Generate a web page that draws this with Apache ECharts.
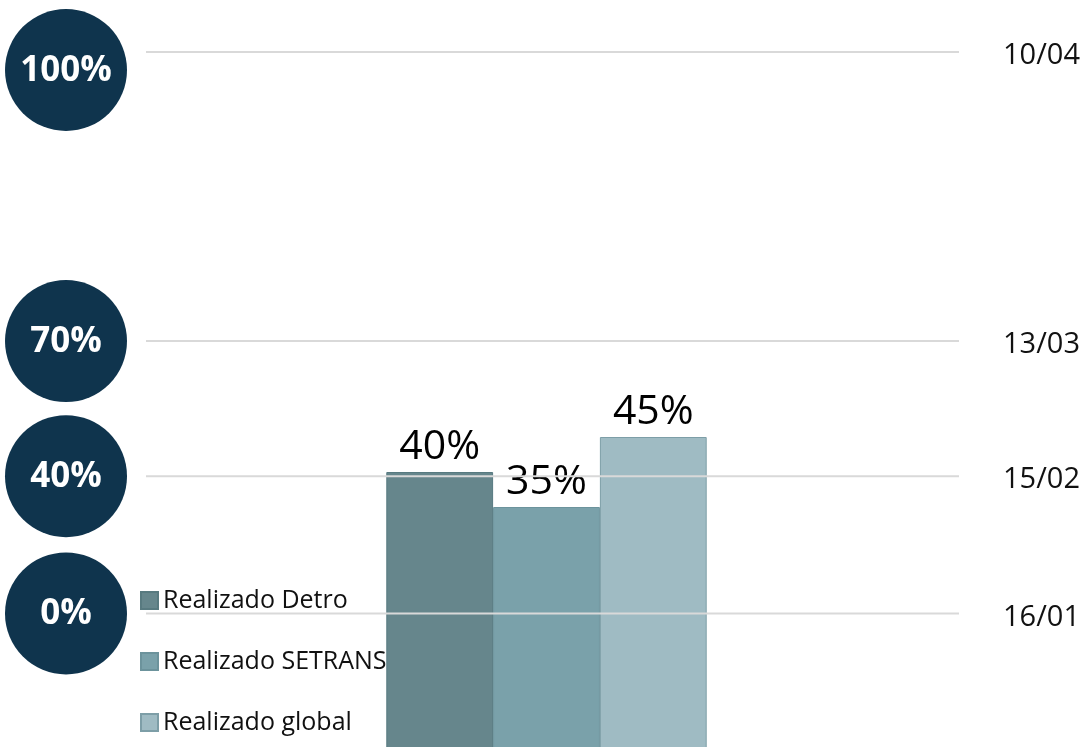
<!DOCTYPE html>
<html>
<head>
<meta charset="utf-8">
<script src="https://cdn.jsdelivr.net/npm/echarts@6/dist/echarts.min.js"></script>
<style>
  html, body { margin: 0; padding: 0; background: #ffffff; }
  #chart { width: 1089px; height: 747px; }
</style>
</head>
<body>
<div id="chart"></div>
<script>
// Progress of execution, by executor
const categories = ['Realizado'];
const seriesNames = ['Realizado Detro', 'Realizado SETRANS', 'Realizado global'];
const detroValues = [40];
const setransValues = [35];
const globalValues = [45];

// Schedule milestones: target share, date, and level on the progress scale
const milestoneLabels = ['0%', '40%', '70%', '100%'];
const milestoneDates = ['16/01', '15/02', '13/03', '10/04'];
const milestoneLevels = [19.8, 39.4, 58.7, 100];

const FONT = '"Open Sans", "Noto Sans", sans-serif';
const barColors = ['#66868c', '#7aa1aa', '#9fbbc3'];
const barBorders = ['#587a80', '#6c939c', '#7d9ea7'];

const chart = echarts.init(document.getElementById('chart'), null, { renderer: 'canvas' });

function barSeries(name, values, idx) {
  return {
    name: name,
    type: 'bar',
    data: values,
    barGap: '0%',
    barCategoryGap: '60%',
    z: 2,
    itemStyle: { color: barColors[idx], borderColor: barBorders[idx], borderWidth: 1 },
    label: {
      show: true,
      position: 'top',
      distance: 4,
      formatter: '{c}%',
      color: '#000000',
      fontSize: 41,
      fontFamily: FONT
    }
  };
}

const option = {
  backgroundColor: '#ffffff',
  animation: false,
  // the bars run past the bottom edge, so the plot area is not clamped to the canvas
  grid: { left: 146, right: 142, top: 52, height: 700, outerBoundsMode: 'none', containLabel: false },
  xAxis: { type: 'category', data: categories, show: false },
  yAxis: { type: 'value', min: 0, max: 100, show: false },
  legend: {
    data: seriesNames,
    orient: 'vertical',
    left: 140,
    top: 588,
    padding: 0,
    itemWidth: 17,
    itemHeight: 17,
    itemGap: 36,
    itemTextGap: 6,
    icon: 'rect',
    textStyle: { fontSize: 25, lineHeight: 24, color: '#111111', fontFamily: FONT }
  },
  series: [
    barSeries(seriesNames[0], detroValues, 0),
    barSeries(seriesNames[1], setransValues, 1),
    barSeries(seriesNames[2], globalValues, 2),
    {
      // milestone guide lines, target badges and dates
      name: 'marcos',
      type: 'custom',
      z: 5,
      clip: false,
      silent: true,
      encode: { x: 0, y: 1 },
      data: milestoneLevels.map(function (v) { return [0, v]; }),
      renderItem: function (params, api) {
        const i = params.dataIndex;
        const cs = params.coordSys;
        const y = api.coord([0, api.value(1)])[1];
        const r = 61;
        const cy = Math.max(y, r + 9);
        return {
          type: 'group',
          children: [
            {
              type: 'line',
              shape: { x1: cs.x, y1: y, x2: cs.x + cs.width + 12, y2: y },
              style: { stroke: '#d9d9d9', lineWidth: 2 }
            },
            {
              type: 'circle',
              shape: { cx: cs.x - 80, cy: cy, r: r },
              style: { fill: '#0f344d' }
            },
            {
              type: 'text',
              x: cs.x - 80,
              y: cy + 1,
              style: {
                text: milestoneLabels[i],
                fill: '#ffffff',
                font: 'bold 35px ' + FONT,
                align: 'center',
                verticalAlign: 'middle'
              }
            },
            {
              type: 'text',
              x: cs.x + cs.width + 56,
              y: y + 4,
              style: {
                text: milestoneDates[i],
                fill: '#111111',
                font: '29px ' + FONT,
                align: 'left',
                verticalAlign: 'middle'
              }
            }
          ]
        };
      }
    }
  ]
};

chart.setOption(option);
</script>
</body>
</html>
